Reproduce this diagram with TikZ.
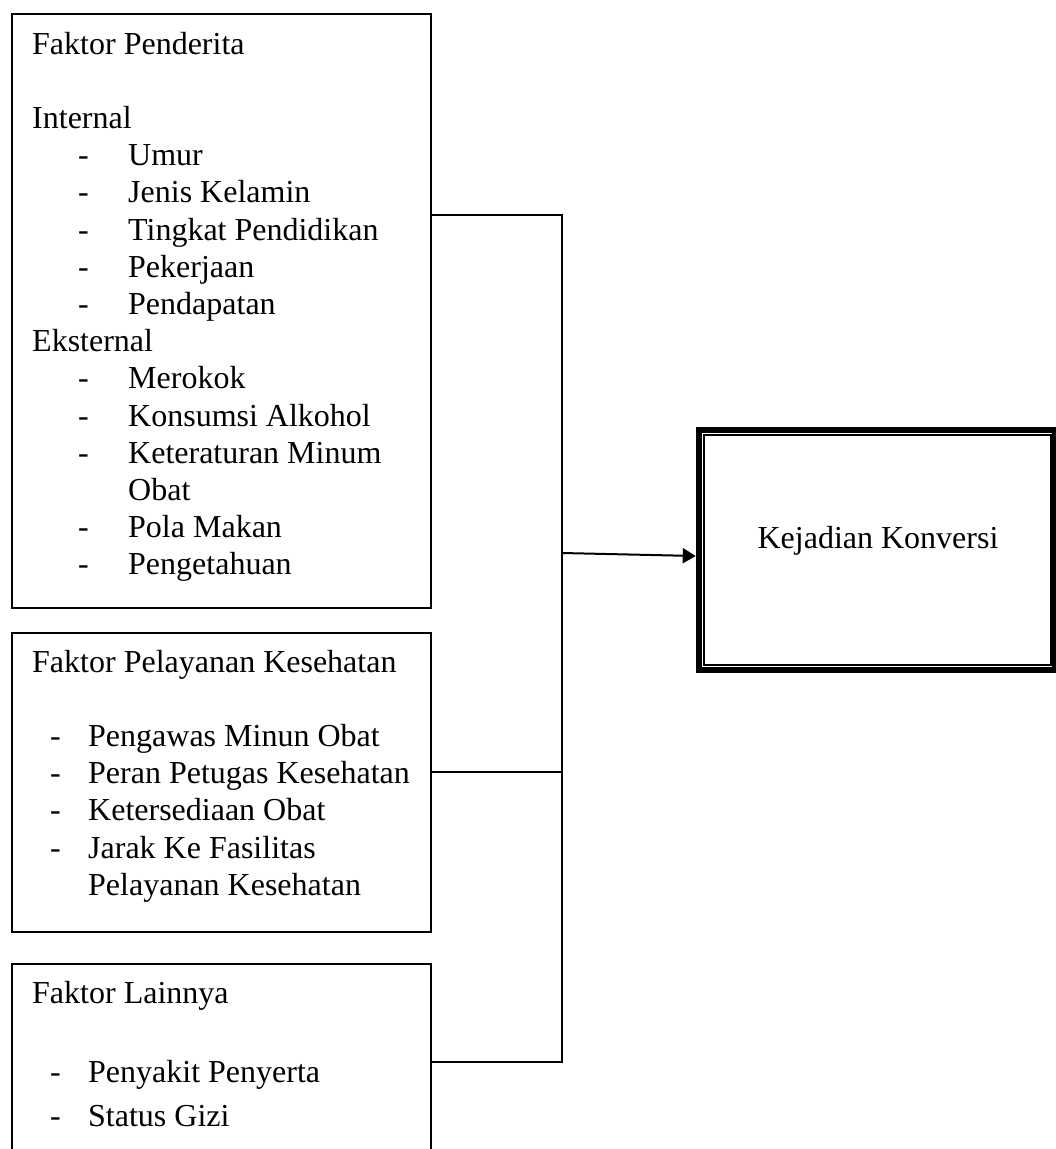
\documentclass[tikz,border=0pt]{standalone}
\usepackage{fontspec}
\setmainfont{Liberation Serif}
\usetikzlibrary{arrows.meta}
\begin{document}
\begin{tikzpicture}[x=1pt,y=-1pt,
  box/.style={draw, line width=2pt, anchor=north west, inner sep=0pt},
  txt/.style={anchor=base west, inner sep=0pt, font=\fontsize{32}{37}\selectfont},
  ctxt/.style={anchor=base, inner sep=0pt, font=\fontsize{32}{37}\selectfont},
  conn/.style={line width=2pt},
  arr/.style={line width=2pt, -{Triangle[length=13pt,width=15pt]}},
  outcome/.style={draw, line width=6.5pt, minimum width=356pt, minimum height=240pt, inner sep=0pt}
]
\useasboundingbox (0,0) rectangle (1056,1149);
\clip (0,0) rectangle (1056,1149);

% boxes
\node[box, minimum width=419pt, minimum height=594pt] (b1) at (11,13) {};
\node[box, minimum width=419pt, minimum height=299pt] (b2) at (11,632) {};
\node[box, minimum width=419pt, minimum height=220pt] (b3) at (11,963) {};

% box 1 text
\node[txt] (t10) at (32,54) {Faktor Penderita};
\node[txt] (t11) at (32,128.4) {Internal};
\node[txt] (d12) at (78,165.6) {-};
\node[txt] (t12) at (128,165.6) {Umur};
\node[txt] (d13) at (78,202.8) {-};
\node[txt] (t13) at (128,202.8) {Jenis Kelamin};
\node[txt] (d14) at (78,240) {-};
\node[txt] (t14) at (128,240) {Tingkat Pendidikan};
\node[txt] (d15) at (78,277.2) {-};
\node[txt] (t15) at (128,277.2) {Pekerjaan};
\node[txt] (d16) at (78,314.4) {-};
\node[txt] (t16) at (128,314.4) {Pendapatan};
\node[txt] (t17) at (32,351.6) {Eksternal};
\node[txt] (d18) at (78,388.8) {-};
\node[txt] (t18) at (128,388.8) {Merokok};
\node[txt] (d19) at (78,426) {-};
\node[txt] (t19) at (128,426) {Konsumsi Alkohol};
\node[txt] (d1a) at (78,463.2) {-};
\node[txt] (t1a) at (128,463.2) {Keteraturan Minum};
\node[txt] (t1b) at (128,500.4) {Obat};
\node[txt] (d1c) at (78,537.6) {-};
\node[txt] (t1c) at (128,537.6) {Pola Makan};
\node[txt] (d1d) at (78,574.8) {-};
\node[txt] (t1d) at (128,574.8) {Pengetahuan};

% box 2 text
\node[txt] (t20) at (32,672) {Faktor Pelayanan Kesehatan};
\node[txt] (d21) at (50,746.4) {-};
\node[txt] (t21) at (88,746.4) {Pengawas Minun Obat};
\node[txt] (d22) at (50,783.6) {-};
\node[txt] (t22) at (88,783.6) {Peran Petugas Kesehatan};
\node[txt] (d23) at (50,820.8) {-};
\node[txt] (t23) at (88,820.8) {Ketersediaan Obat};
\node[txt] (d24) at (50,858) {-};
\node[txt] (t24) at (88,858) {Jarak Ke Fasilitas};
\node[txt] (t25) at (88,895.2) {Pelayanan Kesehatan};

% box 3 text
\node[txt] (t30) at (32,1003) {Faktor Lainnya};
\node[txt] (d31) at (50,1082) {-};
\node[txt] (t31) at (88,1082) {Penyakit Penyerta};
\node[txt] (d32) at (50,1126) {-};
\node[txt] (t32) at (88,1126) {Status Gizi};

% outcome box
\node[outcome] (kk) at (877,550) {};
\draw[line width=1.8pt] ([shift={(8,8)}]kk.north west) rectangle ([shift={(-7,-8)}]kk.south east);
\node[ctxt] (kkt) at (878,548) {Kejadian Konversi};

% connectors
\coordinate (j1) at (562,215);
\coordinate (j2) at (562,772);
\coordinate (j3) at (562,1062);
\coordinate (ja) at (562,553);
\draw[conn] (b1.east |- j1) -- (j1) -- (j3) -- (b3.east |- j3);
\draw[conn] (b2.east |- j2) -- (j2);
\draw[arr] (ja) -- ([yshift=-6pt]kk.west);
\end{tikzpicture}
\end{document}
